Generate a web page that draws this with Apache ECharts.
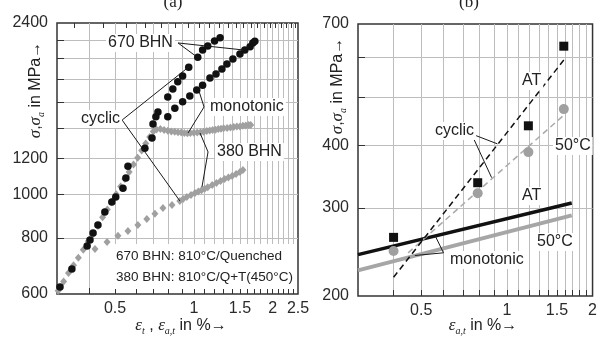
<!DOCTYPE html>
<html><head><meta charset="utf-8">
<script src="https://cdn.jsdelivr.net/npm/echarts@6/dist/echarts.min.js"></script>
<style>html,body{margin:0;padding:0;background:#fff}#c{width:600px;height:338px}</style>
</head><body><div id="c"></div>
<script>
// ---------- Panel (a) data: strain amplitude (%) vs stress (MPa) ----------
const bhn670Cyclic = [[0.308,622],[0.342,682],[0.391,767],[0.401,791],[0.412,820],[0.430,854],[0.457,913],[0.486,960],[0.503,985],[0.536,1031],[0.550,1086],[0.560,1154],[0.650,1265],[0.692,1333],[0.698,1432],[0.716,1485],[0.729,1523],[0.795,1643],[0.831,1713],[0.868,1776],[0.906,1831],[0.956,1914],[1.035,2015],[1.08,2091],[1.13,2133],[1.20,2188],[1.26,2225]];
const bhn670Mono = [[0.795,1485],[0.846,1552],[0.906,1604],[0.965,1652],[1.026,1703],[1.08,1746],[1.152,1812],[1.215,1848],[1.28,1897],[1.338,1947],[1.41,1997],[1.50,2049],[1.566,2091],[1.64,2125],[1.68,2167],[1.71,2185]];
const bhn380Mono = [[0.303,610],[0.318,640],[0.332,668],[0.347,695],[0.362,722],[0.378,752],[0.395,786],[0.412,815],[0.430,850],[0.448,888],[0.467,925],[0.486,962],[0.505,1000],[0.525,1040],[0.545,1080],[0.566,1120],[0.588,1163],[0.610,1205],[0.632,1250],[0.655,1295],[0.678,1340],[0.700,1378],
  [0.72,1392],[0.745,1396],[0.77,1389],[0.795,1383],[0.82,1378],[0.845,1376],[0.87,1372],[0.895,1370],[0.92,1367],[0.945,1366],[0.97,1367],[1.0,1369],[1.03,1370],[1.06,1373],[1.09,1376],[1.12,1381],[1.15,1384],[1.18,1389],[1.21,1391],[1.24,1395],[1.27,1397],[1.30,1401],[1.34,1403],[1.38,1407],[1.42,1409],[1.46,1413],[1.50,1414],[1.54,1418],[1.58,1420],[1.62,1424],[1.65,1425]];
const bhn380Cyclic = [[0.419,755],[0.466,783],[0.513,808],[0.560,828],[0.611,854],[0.661,881],[0.710,904],[0.762,931],[0.825,946],[0.884,966],[0.91,975],[0.94,986],[0.975,996],[1.01,1006],[1.04,1013],[1.07,1020],[1.10,1028],[1.13,1036],[1.175,1048],[1.22,1059],[1.265,1070],[1.31,1080],[1.355,1089],[1.40,1097],[1.45,1108],[1.50,1120],[1.54,1132]];

// ---------- Panel (b) data ----------
const atCyclicPts  = [[0.40,262],[0.79,337],[1.19,438],[1.585,632]];
const c50CyclicPts = [[0.40,246],[0.79,321],[1.19,388],[1.585,473]];
const atCyclicFit  = [[0.40,218],[1.585,593]];
const c50CyclicFit = [[0.45,244],[1.585,460]];
const atMono  = [[0.3,242],[1.69,307]];
const c50Mono = [[0.3,225],[1.69,290]];

// ---------- tick / label values ----------
const aXLabels = [0.5,1,1.5,2,2.5];
const aXGrid = [0.4,0.5,0.6,0.7,0.8,0.9,1,1.1,1.2,1.3,1.4,1.5,1.6,1.7,1.8,1.9,2,2.1,2.2,2.3,2.4];
const aXMinor = [0.35,0.45,0.55,0.65,0.75,0.85,0.95,1.05,1.15,1.25,1.35,1.45,1.55,1.65,1.75,1.85,1.95,2.05,2.15,2.25,2.35,2.45];
const aYLabels = [600,800,1000,1200,2400];
const aYGrid = [800,1000,1200,1400,1600,1800,2000,2200];
const bXLabels = [0.5,1,1.5,2];
const bXGrid = [0.4,0.5,0.6,0.7,0.8,0.9,1,1.1,1.2,1.3,1.4,1.5,1.6,1.7,1.8,1.9];
const bYLabels = [200,300,400,700];
const bYGrid = [300,400,500,600];

// ---------- annotation leader lines (data coords) ----------
const a670Lead1 = [[0.870,2167],[1.028,2017]];
const a670Lead2 = [[0.870,2167],[1.541,2091]];
const aCycLead = [[0.967,1927],[0.532,1461],[0.885,965]];
const aMonoLead = [[1.046,1695],[1.094,1562],[0.950,1367]];
const a380Lead = [[1.056,1367],[1.133,1241],[1.074,1037]];
const bCycLead = [[0.927,403],[0.751,422],[0.884,345]];
const bMonoLead = [[0.560,264],[0.599,244],[0.475,241]];

const SANS = 'Liberation Sans';
const SERIF = 'Liberation Serif';
const fmt = v => String(+(+v).toFixed(2));

function xAx(gi, min, max, labels, grid, extra) {
  return Object.assign({
    type:'log', logBase:10, gridIndex:gi, min:min, max:max,
    axisLine:{show:false},
    axisTick:{show:true, inside:true, length:6, customValues:grid, lineStyle:{color:'#333', width:1}},
    axisLabel:{show:true, customValues:labels, formatter:fmt, margin:7, color:'#2a2a2a', fontSize:16, fontFamily:SANS},
    splitLine:{show:true, lineStyle:{color:'#bdbdbd', width:1}},
    minorTick:{show:false}, minorSplitLine:{show:false}
  }, extra || {});
}
function yAx(gi, min, max, labels, grid) {
  return {
    type:'log', logBase:10, gridIndex:gi, min:min, max:max,
    axisLine:{show:false},
    axisTick:{show:true, inside:true, length:7, customValues:grid, lineStyle:{color:'#333', width:1}},
    axisLabel:{show:true, customValues:labels, formatter:fmt, margin:9, color:'#2a2a2a', fontSize:16, fontFamily:SANS},
    splitLine:{show:true, lineStyle:{color:'#bdbdbd', width:1}}
  };
}
function lead(data, xi, yi) {
  return {type:'line', xAxisIndex:xi, yAxisIndex:yi, data:data, showSymbol:false, symbol:'none', silent:true,
    lineStyle:{color:'#1a1a1a', width:1}, z:4};
}
function txt(x, y, s, size) {
  return {type:'text', x:x, y:y, z:100, style:{text:s, fontSize:size||16, fontFamily:SANS, fill:'#222',
    align:'left', verticalAlign:'middle', textAlign:'left', textVerticalAlign:'middle', backgroundColor:'#fff', padding:[1,2,1,2]}};
}

const chart = echarts.init(document.getElementById('c'), null, {renderer:'canvas'});
chart.setOption({
  animation:false,
  backgroundColor:'#fff',
  grid:[
    {left:57, top:23, width:241, height:271, show:true, borderColor:'#333', borderWidth:1.5, backgroundColor:'transparent'},
    {left:358, top:24, width:244, height:272, show:true, borderColor:'#333', borderWidth:1.5, backgroundColor:'transparent'}
  ],
  xAxis:[
    xAx(0, 0.3, 2.5, aXLabels, aXGrid),
    xAx(0, 0.3, 2.5, [], aXMinor, {axisLabel:{show:false}, splitLine:{show:false}, axisTick:{show:true, inside:true, length:5, customValues:aXMinor, lineStyle:{color:'#333', width:1}}}),
    xAx(1, 0.3, 2, bXLabels, bXGrid)
  ],
  yAxis:[
    yAx(0, 600, 2400, aYLabels, aYGrid),
    yAx(1, 200, 700, bYLabels, bYGrid)
  ],
  series:[
    {type:'scatter', name:'380 BHN monotonic', xAxisIndex:0, yAxisIndex:0, data:bhn380Mono, symbol:'diamond', symbolSize:[7,8], itemStyle:{color:'#a0a0a0', opacity:1}, z:2},
    {type:'scatter', name:'380 BHN cyclic', xAxisIndex:0, yAxisIndex:0, data:bhn380Cyclic, symbol:'diamond', symbolSize:[7,8], itemStyle:{color:'#a0a0a0', opacity:1}, z:2},
    {type:'scatter', name:'670 BHN cyclic', xAxisIndex:0, yAxisIndex:0, data:bhn670Cyclic, symbol:'circle', symbolSize:7.5, itemStyle:{color:'#111', opacity:1}, z:3},
    {type:'scatter', name:'670 BHN monotonic', xAxisIndex:0, yAxisIndex:0, data:bhn670Mono, symbol:'circle', symbolSize:7.5, itemStyle:{color:'#111', opacity:1}, z:3},
    lead(a670Lead1,0,0), lead(a670Lead2,0,0), lead(aCycLead,0,0), lead(aMonoLead,0,0), lead(a380Lead,0,0),

    {type:'line', name:'50°C monotonic', xAxisIndex:2, yAxisIndex:1, data:c50Mono, showSymbol:false, symbol:'none', lineStyle:{color:'#a6a6a6', width:4}, z:2},
    {type:'line', name:'AT monotonic', xAxisIndex:2, yAxisIndex:1, data:atMono, showSymbol:false, symbol:'none', lineStyle:{color:'#111', width:3.5}, z:2},
    {type:'line', name:'50°C cyclic fit', xAxisIndex:2, yAxisIndex:1, data:c50CyclicFit, showSymbol:false, symbol:'none', lineStyle:{color:'#aaa', width:1.5, type:[6,4]}, z:2},
    {type:'line', name:'AT cyclic fit', xAxisIndex:2, yAxisIndex:1, data:atCyclicFit, showSymbol:false, symbol:'none', lineStyle:{color:'#111', width:1.5, type:[6,4]}, z:2},
    {type:'scatter', name:'50°C cyclic', xAxisIndex:2, yAxisIndex:1, data:c50CyclicPts, symbol:'circle', symbolSize:10, itemStyle:{color:'#a0a0a0', opacity:1}, z:3},
    {type:'scatter', name:'AT cyclic', xAxisIndex:2, yAxisIndex:1, data:atCyclicPts, symbol:'rect', symbolSize:9, itemStyle:{color:'#111', opacity:1}, z:3},
    lead(bCycLead,2,1), lead(bMonoLead,2,1)
  ],
  graphic:[
    {type:'rect', z:1, shape:{x:113, y:244, width:183, height:45}, style:{fill:'#fff'}},
    {type:'text', x:173, y:3, z:100, style:{text:'(a)', fontSize:17, fontFamily:SERIF, fill:'#222', align:'center', verticalAlign:'middle', textAlign:'center', textVerticalAlign:'middle'}},
    {type:'text', x:469, y:3, z:100, style:{text:'(b)', fontSize:17, fontFamily:SERIF, fill:'#222', align:'center', verticalAlign:'middle', textAlign:'center', textVerticalAlign:'middle'}},
    txt(106,43,'670 BHN'),
    txt(79,119,'cyclic'),
    txt(208,107,'monotonic'),
    txt(215,152,'380 BHN'),
    {type:'text', x:116, y:256, z:100, style:{text:'670 BHN: 810°C/Quenched', fontSize:13.5, fontFamily:SANS, fill:'#222', align:'left', verticalAlign:'middle', textAlign:'left', textVerticalAlign:'middle'}},
    {type:'text', x:116, y:277, z:100, style:{text:'380 BHN: 810°C/Q+T(450°C)', fontSize:13.5, fontFamily:SANS, fill:'#222', align:'left', verticalAlign:'middle', textAlign:'left', textVerticalAlign:'middle'}},
    txt(520,81,'AT'),
    txt(433,131,'cyclic'),
    txt(553,146,'50°C'),
    txt(520,196,'AT'),
    txt(535,242,'50°C'),
    txt(448,260,'monotonic'),
    // axis titles
    {type:'text', x:36, y:90, rotation:Math.PI/2, z:100, style:{
      text:'{g|σ},{g|σ}{s|a} in MPa→', fontSize:16, fontFamily:SANS, fill:'#222', lineHeight:20,
      align:'center', verticalAlign:'middle', textAlign:'center', textVerticalAlign:'middle',
      rich:{g:{fontSize:17, fontFamily:SERIF, fontStyle:'italic', fill:'#222'}, s:{fontSize:10, fontFamily:SERIF, fontStyle:'italic', fill:'#222', verticalAlign:'bottom', lineHeight:20}}}},
    {type:'text', x:338, y:86, rotation:Math.PI/2, z:100, style:{
      text:'{g|σ},{g|σ}{s|a} in MPa→', fontSize:16, fontFamily:SANS, fill:'#222', lineHeight:20,
      align:'center', verticalAlign:'middle', textAlign:'center', textVerticalAlign:'middle',
      rich:{g:{fontSize:17, fontFamily:SERIF, fontStyle:'italic', fill:'#222'}, s:{fontSize:10, fontFamily:SERIF, fontStyle:'italic', fill:'#222', verticalAlign:'bottom', lineHeight:20}}}},
    {type:'text', x:181, y:326, z:100, style:{
      text:'{g|ε}{s|t} , {g|ε}{s|a,t} in %→', fontSize:16, fontFamily:SANS, fill:'#222', lineHeight:20,
      align:'center', verticalAlign:'middle', textAlign:'center', textVerticalAlign:'middle',
      rich:{g:{fontSize:17, fontFamily:SERIF, fontStyle:'italic', fill:'#222'}, s:{fontSize:10, fontFamily:SERIF, fontStyle:'italic', fill:'#222', verticalAlign:'bottom', lineHeight:20}}}},
    {type:'text', x:483, y:326, z:100, style:{
      text:'{g|ε}{s|a,t} in %→', fontSize:16, fontFamily:SANS, fill:'#222', lineHeight:20,
      align:'center', verticalAlign:'middle', textAlign:'center', textVerticalAlign:'middle',
      rich:{g:{fontSize:17, fontFamily:SERIF, fontStyle:'italic', fill:'#222'}, s:{fontSize:10, fontFamily:SERIF, fontStyle:'italic', fill:'#222', verticalAlign:'bottom', lineHeight:20}}}}
  ]
});
</script></body></html>
